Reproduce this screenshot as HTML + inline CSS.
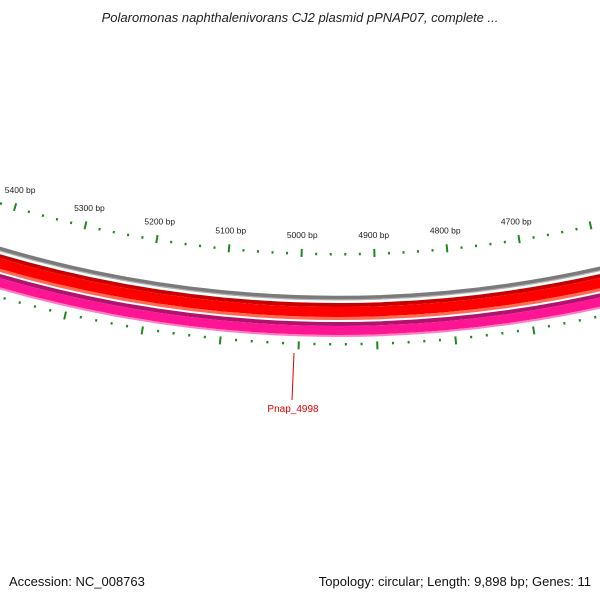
<!DOCTYPE html>
<html><head><meta charset="utf-8"><style>
html,body{margin:0;padding:0;background:#fff;}
svg{display:block;font-family:"Liberation Sans","DejaVu Sans",sans-serif;}
</style></head><body>
<svg id="map" width="600" height="600" viewBox="0 0 600 600">
<text x="300" y="22" text-anchor="middle" font-size="13" font-style="italic" fill="#222">Polaromonas naphthalenivorans CJ2 plasmid pPNAP07, complete ...</text>
<g id="rings"></g>
<g id="ticks"></g>
<line x1="294" y1="353" x2="292" y2="400" stroke="#e00000" stroke-width="1"/>
<text x="293" y="412" text-anchor="middle" font-size="10" fill="#e00000">Pnap_4998</text>
<text x="9" y="586" font-size="13" fill="#111">Accession: NC_008763</text>
<text x="591" y="586" text-anchor="end" font-size="13" fill="#111">Topology: circular; Length: 9,898 bp; Genes: 11</text>
</svg>
<script>
const genomeLength = [9898];
const majorTicks = [4400,4500,4600,4700,4800,4900,5000,5100,5200,5300,5400,5500,5600];
const minorStep = [20];
const centerBp = [4950];
const NS='http://www.w3.org/2000/svg';
const cx=338, cy=-892.5;
function ang(bp){return (bp-centerBp[0])/genomeLength[0]*2*Math.PI;}
function pt(bp,r){const a=ang(bp);return [cx-r*Math.sin(a), cy+r*Math.cos(a)];}
const rings=document.getElementById('rings'), ticks=document.getElementById('ticks');
function ring(r,w,color,name){
  const c=document.createElementNS(NS,'circle');
  c.setAttribute('cx',cx);c.setAttribute('cy',cy);c.setAttribute('r',r);
  c.setAttribute('fill','none');c.setAttribute('stroke',color);c.setAttribute('stroke-width',w);
  
  
  rings.appendChild(c);
}
ring(1190.5,4.5,'#7a7a7a','backbone-ring');
ring(1192.3,1.2,'#b0b0b0','backbone-ring-edge');
ring(1197.5,4,'#c80000','gene-ring-red-edge');
ring(1204.5,10,'#ff0000','gene-ring-red');
ring(1211,3,'#ff6a50','gene-ring-red-light');
ring(1216.5,4,'#b0126e','gene-ring-pink-edge');
ring(1223,9,'#ff1493','gene-ring-pink');
ring(1228.5,2,'#ff80c0','gene-ring-pink-light');
function tick(bp,r1,r2,w,name){
  const a=pt(bp,r1),b=pt(bp,r2);
  const l=document.createElementNS(NS,'line');
  l.setAttribute('x1',a[0]);l.setAttribute('y1',a[1]);l.setAttribute('x2',b[0]);l.setAttribute('y2',b[1]);
  l.setAttribute('stroke','#1a8a1a');l.setAttribute('stroke-width',w);
  
  
  ticks.appendChild(l);
}
const lo=majorTicks[0], hi=majorTicks[majorTicks.length-1];
for(let bp=lo; bp<=hi; bp+=minorStep[0]){
  if(bp%100===0) continue;
  tick(bp,1145.5,1148,2,'inner-minor-tick');
  tick(bp,1235.5,1238,2,'outer-minor-tick');
}
majorTicks.forEach(bp=>{
  tick(bp,1142,1150,2,'inner-major-tick');
  tick(bp,1234.5,1242.5,2,'outer-major-tick');
  const p=pt(bp,1128);
  if(p[0]<5||p[0]>575) return;
  const t=document.createElementNS(NS,'text');
  t.setAttribute('x',p[0]);t.setAttribute('y',p[1]+3);
  t.setAttribute('text-anchor','middle');t.setAttribute('font-size','8.5');t.setAttribute('fill','#222');
  t.textContent=bp+' bp';
  
  
  ticks.appendChild(t);
});
</script>
</body></html>
